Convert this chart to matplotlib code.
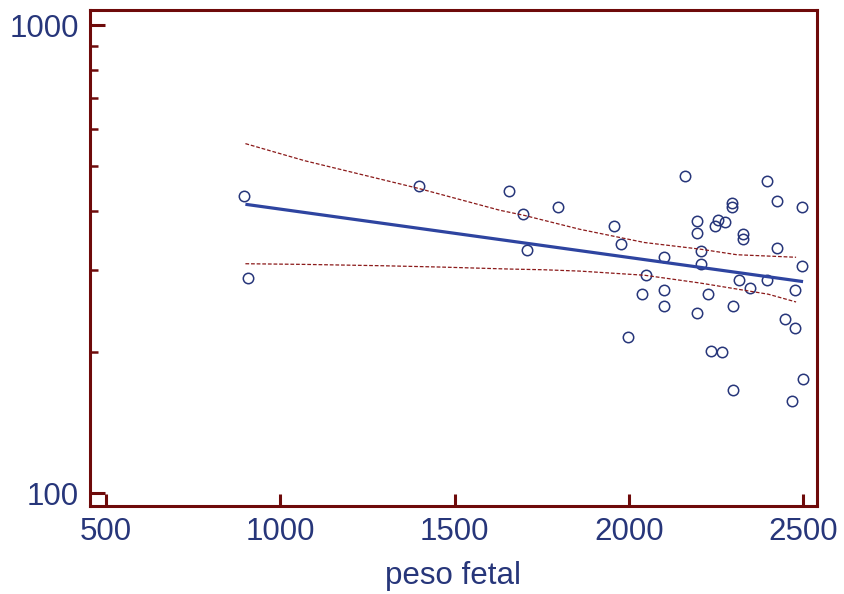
import matplotlib
matplotlib.use("Agg")
import matplotlib.pyplot as plt
from matplotlib.ticker import LogLocator, NullFormatter, FuncFormatter, FixedLocator

# data
peso = [897, 907, 1399, 1657, 1697, 1707, 1798, 1959, 1979, 2049, 2039, 1999,
        2100, 2100, 2100, 2160, 2197, 2197, 2207, 2207, 2196, 2227, 2236, 2267,
        2257, 2246, 2276, 2297, 2297, 2298, 2298, 2328, 2328, 2317, 2348, 2397,
        2424, 2424, 2397, 2448, 2478, 2478, 2498, 2498, 2499, 2468]
valor = [432, 288, 453, 441, 394, 331, 408, 372, 341, 293, 266, 215,
         319, 271, 251, 475, 382, 360, 329, 308, 242, 266, 201, 200,
         384, 372, 380, 417, 408, 251, 166, 357, 349, 285, 274, 465,
         421, 334, 285, 236, 271, 225, 408, 306, 175, 157]

fit_x = [900, 2500]
fit_y = [414, 283]

upper_x = [900, 1070, 1400, 1630, 1700, 1860, 2045, 2205, 2310, 2480]
upper_y = [558, 513, 447, 402, 392, 366, 343, 332, 323, 319]
lower_x = [900, 1070, 1290, 1460, 1660, 1755, 1860, 2045, 2205, 2400, 2480]
lower_y = [309, 308, 306, 304, 301, 300, 298, 292, 281, 266, 256]

navy = "#27367a"
red = "#6e0a0a"

plt.rcParams['font.family'] = ['Liberation Sans', 'DejaVu Sans']

fig = plt.figure(figsize=(8.44, 5.94), dpi=100)
ax = fig.add_axes([0.1066, 0.1481, 0.8614, 0.8351])

ax.plot(peso, valor, linestyle="none", marker="o", markersize=7.5,
        markerfacecolor="none", markeredgecolor=navy, markeredgewidth=1.1)
ax.plot(fit_x, fit_y, color="#2e44a0", linewidth=2.3, solid_capstyle="butt")
ax.plot(upper_x, upper_y, color="#8b1a1a", linewidth=0.9, dashes=(3, 1.5))
ax.plot(lower_x, lower_y, color="#8b1a1a", linewidth=0.9, dashes=(3, 1.5))

ax.set_yscale("log")
ax.set_xlim(454, 2540)
ax.set_ylim(93.8, 1077)

ax.xaxis.set_major_locator(FixedLocator([500, 1000, 1500, 2000, 2500]))
ax.yaxis.set_major_locator(FixedLocator([100, 1000]))
ax.yaxis.set_minor_locator(LogLocator(base=10, subs=range(2, 10)))
ax.yaxis.set_major_formatter(FuncFormatter(lambda v, p: "%d" % v))
ax.yaxis.set_minor_formatter(NullFormatter())

for s in ax.spines.values():
    s.set_color(red)
    s.set_linewidth(2.2)

ax.tick_params(axis="x", which="major", direction="in", length=9, width=2.2,
               color=red, labelcolor=navy, labelsize=22.5, pad=8)
ax.tick_params(axis="y", which="major", direction="in", length=11, width=2.2,
               color=red, labelcolor=navy, labelsize=22.5, pad=8)
ax.tick_params(axis="y", which="minor", direction="in", length=6, width=1.8,
               color=red)

ax.set_xlabel("peso fetal", fontsize=22.5, color=navy, labelpad=10)

fig.savefig("out.png", dpi=100)
